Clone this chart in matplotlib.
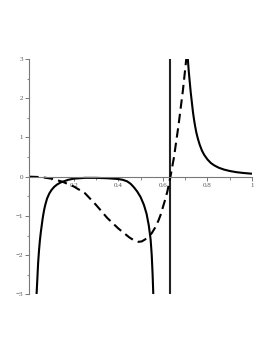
import numpy as np
import matplotlib.pyplot as plt
from matplotlib.ticker import MultipleLocator, FixedFormatter, FixedLocator

# solid curve, left branch
solid_left_x = [0.033, 0.037, 0.040, 0.044, 0.048, 0.052, 0.056, 0.060, 0.064, 0.068, 0.072,
                0.080, 0.090, 0.100, 0.112, 0.125, 0.140, 0.155, 0.175, 0.200, 0.250, 0.300,
                0.350, 0.400, 0.420, 0.440, 0.455, 0.470, 0.485, 0.500, 0.515, 0.527, 0.537,
                0.545, 0.550, 0.554, 0.557]
solid_left_y = [-3.00, -2.55, -2.20, -1.88, -1.62, -1.42, -1.25, -1.08, -0.94, -0.82, -0.72,
                -0.56, -0.43, -0.34, -0.26, -0.20, -0.15, -0.12, -0.08, -0.05, -0.03, -0.03,
                -0.04, -0.06, -0.08, -0.12, -0.18, -0.27, -0.38, -0.52, -0.72, -0.95, -1.25,
                -1.60, -2.00, -2.50, -3.00]

# solid curve, right branch
solid_right_x = [0.712, 0.716, 0.720, 0.725, 0.730, 0.735, 0.740, 0.745, 0.750, 0.757, 0.765,
                 0.775, 0.785, 0.800, 0.815, 0.830, 0.850, 0.875, 0.900, 0.930, 0.960, 1.000]
solid_right_y = [3.00, 2.70, 2.45, 2.15, 1.90, 1.65, 1.45, 1.28, 1.13, 0.97, 0.82,
                 0.67, 0.56, 0.44, 0.35, 0.29, 0.23, 0.18, 0.145, 0.115, 0.095, 0.075]

# vertical solid line
vline_x = [0.634, 0.634]
vline_y = [-3.0, 3.0]

# dashed curve
dashed_x = [0.00, 0.05, 0.10, 0.15, 0.20, 0.25, 0.30, 0.35, 0.40, 0.45, 0.47, 0.49, 0.505, 0.52,
            0.535, 0.55, 0.565, 0.58, 0.59, 0.60, 0.61, 0.62, 0.634, 0.65, 0.67, 0.69, 0.705]
dashed_y = [0.00, -0.01, -0.05, -0.13, -0.25, -0.42, -0.72, -1.05, -1.32, -1.55, -1.62, -1.66, -1.65, -1.60,
            -1.53, -1.44, -1.30, -1.12, -0.97, -0.78, -0.59, -0.38, 0.00, 0.50, 1.30, 2.20, 3.00]

x_ticks = [0.2, 0.4, 0.6, 0.8, 1.0]
x_labels = ["0.2", "0.4", "0.6", "0.8", "1"]
y_ticks = [-3, -2, -1, 0, 1, 2, 3]
y_labels = ["\u22123", "\u22122", "\u22121", "0", "1", "2", "3"]

fig = plt.figure(figsize=(2.73, 3.53), dpi=100)
ax = fig.add_axes([0.107, 0.166, 0.816, 0.667])

lw = 1.5
ax.plot(solid_left_x, solid_left_y, color="black", lw=lw, solid_capstyle="butt")
ax.plot(solid_right_x, solid_right_y, color="black", lw=lw, solid_capstyle="butt")
ax.plot(vline_x, vline_y, color="#222222", lw=lw, solid_capstyle="butt")
ax.plot(dashed_x, dashed_y, color="black", lw=lw, linestyle=(0, (4.5, 2.5)))

ax.set_xlim(0, 1)
ax.set_ylim(-3, 3)

for s in ["top", "right"]:
    ax.spines[s].set_visible(False)
ax.spines["left"].set_position(("data", 0))
ax.spines["bottom"].set_position(("data", 0))
for s in ["left", "bottom"]:
    ax.spines[s].set_color("#777777")
    ax.spines[s].set_linewidth(0.8)

ax.xaxis.set_major_locator(FixedLocator(x_ticks))
ax.xaxis.set_major_formatter(FixedFormatter(x_labels))
ax.xaxis.set_minor_locator(MultipleLocator(0.1))
ax.yaxis.set_major_locator(FixedLocator(y_ticks))
ax.yaxis.set_major_formatter(FixedFormatter(y_labels))
ax.yaxis.set_minor_locator(MultipleLocator(0.5))

ax.tick_params(which="major", length=3, width=0.7, color="#777777",
               labelsize=5, labelcolor="#555555", pad=1.5)
ax.tick_params(which="minor", length=1.8, width=0.6, color="#777777")
for lab in ax.get_xticklabels() + ax.get_yticklabels():
    lab.set_family("Liberation Serif")

fig.savefig("out.png", dpi=100)
